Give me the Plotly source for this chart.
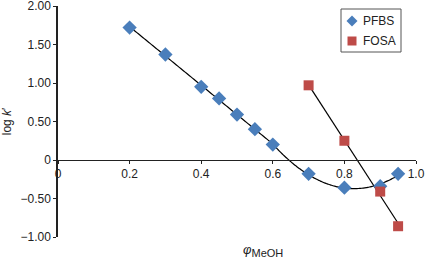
import numpy as np
import plotly.graph_objects as go

# Data
pfbs_x = [0.2, 0.3, 0.4, 0.45, 0.5, 0.55, 0.6, 0.7, 0.8, 0.9, 0.95]
pfbs_y = [1.72, 1.37, 0.95, 0.80, 0.59, 0.40, 0.20, -0.18, -0.36, -0.34, -0.18]
fosa_x = [0.7, 0.8, 0.9, 0.95]
fosa_y = [0.97, 0.25, -0.41, -0.86]
series_names = ["PFBS", "FOSA"]

y_tickvals = [-1.0, -0.5, 0, 0.5, 1.0, 1.5, 2.0]
y_ticktext = ["\u22121.00", "\u22120.50", "0", "0.50", "1.00", "1.50", "2.00"]
x_tickvals = [0, 0.2, 0.4, 0.6, 0.8, 1.0]
x_ticktext = ["0", "0.2", "0.4", "0.6", "0.8", "1.0"]

BLUE = "#4A7EBB"
RED = "#BE4B48"

W, H = 425, 259
ML, MR, MT, MB = 58, 9, 6, 22
PW, PH = W - ML - MR, H - MT - MB

def pxx(X):
    return (X - ML) / PW

def pxy(Y):
    return (H - MB - Y) / PH

# Trend lines derived from the data
px = np.array(pfbs_x); py = np.array(pfbs_y)
lin_mask = px <= 0.6
quad_mask = px >= 0.6
c1 = np.polyfit(px[lin_mask], py[lin_mask], 1)
c2 = np.polyfit(px[quad_mask], py[quad_mask], 2)
xs1 = np.linspace(px.min(), 0.6, 50)
xs2 = np.linspace(0.6, px.max(), 80)
trend_x = np.concatenate([xs1, xs2])
trend_y = np.concatenate([np.polyval(c1, xs1), np.polyval(c2, xs2)])

fx = np.array(fosa_x); fy = np.array(fosa_y)
cf = np.polyfit(fx, fy, 1)
fxs = np.array([fx.min(), fx.max()])
fys = np.polyval(cf, fxs)

fig = go.Figure()
fig.add_trace(go.Scatter(x=trend_x, y=trend_y, mode="lines",
                         line=dict(color="black", width=1.2, shape="spline"),
                         showlegend=False, hoverinfo="skip", cliponaxis=False))
fig.add_trace(go.Scatter(x=fxs, y=fys, mode="lines",
                         line=dict(color="black", width=1.2),
                         showlegend=False, hoverinfo="skip", cliponaxis=False))
fig.add_trace(go.Scatter(x=pfbs_x, y=pfbs_y, mode="markers", name=series_names[0],
                         showlegend=False, cliponaxis=False,
                         marker=dict(symbol="diamond", size=11, color=BLUE)))
fig.add_trace(go.Scatter(x=fosa_x, y=fosa_y, mode="markers", name=series_names[1],
                         showlegend=False, cliponaxis=False,
                         marker=dict(symbol="square", size=10, color=RED)))

# Manual legend (box, symbols, labels)
shapes = [
    dict(type="rect", xref="paper", yref="paper",
         x0=pxx(341), x1=pxx(401), y0=pxy(52), y1=pxy(9),
         line=dict(color="#555", width=1), fillcolor="white", layer="above"),
]
cx, cy, r = 352, 21, 5.5
shapes.append(dict(type="path", xref="paper", yref="paper",
                   path=f"M {pxx(cx)},{pxy(cy - r)} L {pxx(cx + r)},{pxy(cy)} "
                        f"L {pxx(cx)},{pxy(cy + r)} L {pxx(cx - r)},{pxy(cy)} Z",
                   line=dict(width=0), fillcolor=BLUE, layer="above"))
cx, cy, r = 352, 41, 4.5
shapes.append(dict(type="rect", xref="paper", yref="paper",
                   x0=pxx(cx - r), x1=pxx(cx + r), y0=pxy(cy + r), y1=pxy(cy - r),
                   line=dict(width=0), fillcolor=RED, layer="above"))

annotations = [
    dict(text=series_names[0], x=pxx(361), y=pxy(21), xref="paper", yref="paper",
         xanchor="left", yanchor="middle", showarrow=False, font=dict(size=12)),
    dict(text=series_names[1], x=pxx(361), y=pxy(41), xref="paper", yref="paper",
         xanchor="left", yanchor="middle", showarrow=False, font=dict(size=12)),
    dict(text="<i>\u03c6</i><sub><span style='font-size:11px'>MeOH</span></sub>",
         x=pxx(263), y=pxy(250),
         xref="paper", yref="paper", xanchor="center", yanchor="middle",
         showarrow=False, font=dict(size=13)),
]

fig.update_layout(
    width=W, height=H,
    margin=dict(l=ML, r=MR, t=MT, b=MB),
    paper_bgcolor="white", plot_bgcolor="white",
    font=dict(family="Liberation Sans, Arial, sans-serif", size=12, color="#222"),
    showlegend=False,
    xaxis=dict(range=[0, 1], tickvals=x_tickvals, ticktext=x_ticktext,
               showgrid=False, zeroline=False, showline=True, linecolor="#222",
               linewidth=1, ticks="outside", ticklen=3, tickcolor="#222",
               anchor="free", position=1/3, automargin=False,
               ticklabeloverflow="allow"),
    yaxis=dict(range=[-1, 2], tickvals=y_tickvals, ticktext=y_ticktext,
               showgrid=False, zeroline=False, showline=True, linecolor="#222",
               linewidth=1.5, ticks="outside", ticklen=3, tickcolor="#222",
               automargin=False, ticklabeloverflow="allow",
               title=dict(text="log <i>k</i>\u2032", standoff=8, font=dict(size=12))),
    shapes=shapes,
    annotations=annotations,
)

fig.write_html("out.html", post_script="document.body.style.margin='0';",
               config={"displayModeBar": False})
